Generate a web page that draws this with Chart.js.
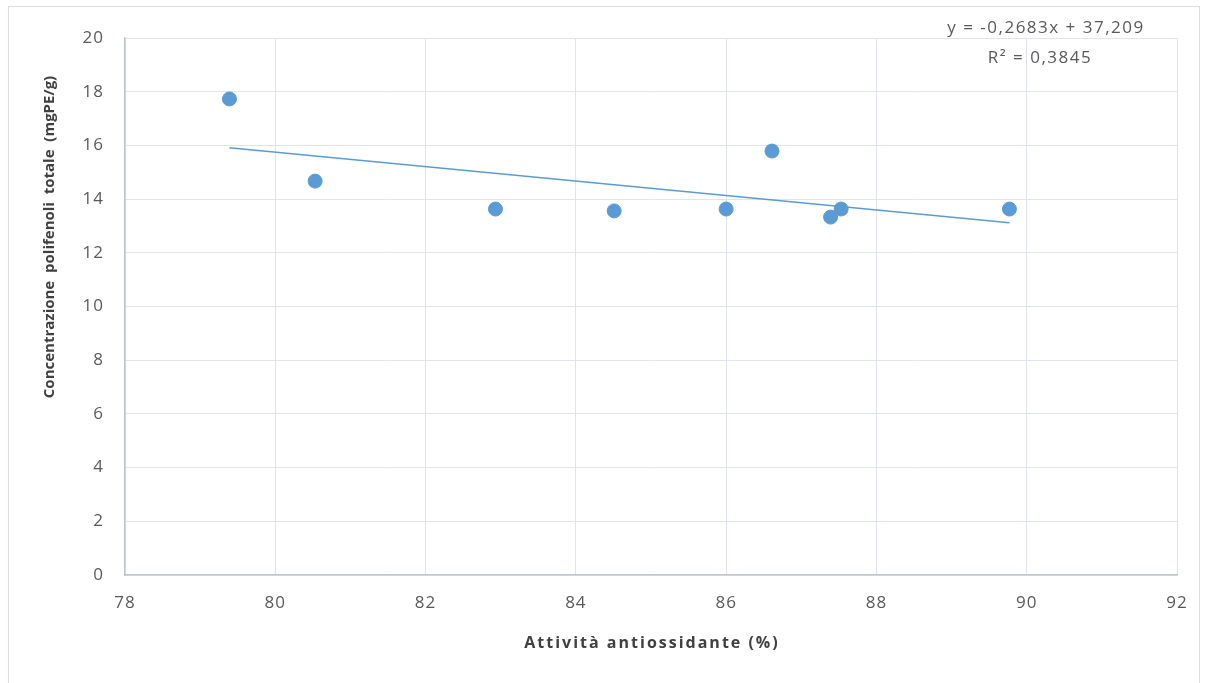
<!DOCTYPE html>
<html>
<head>
<meta charset="utf-8">
<script src="https://cdn.jsdelivr.net/npm/chart.js@4"></script>
<style>
  html, body { margin: 0; padding: 0; background: #fff; }
  #wrap { position: relative; width: 1207px; height: 683px; }
  #frame { position: absolute; left: 8px; top: 6px; width: 1192px; height: 700px; border: 1px solid #d9dde3; box-sizing: border-box; }
  canvas { position: absolute; left: 0; top: 0; }
</style>
</head>
<body>
<div id="wrap">
  <div id="frame"></div>
  <canvas id="scatterChart" width="1207" height="683"></canvas>
</div>
<script>
// Data
const attivita = [79.39, 80.53, 82.93, 84.51, 86.0, 86.61, 87.39, 87.53, 89.77];
const polifenoli = [17.73, 14.67, 13.63, 13.56, 13.63, 15.79, 13.33, 13.63, 13.63];
const xTicks = [78, 80, 82, 84, 86, 88, 90, 92];
const yTicks = [0, 2, 4, 6, 8, 10, 12, 14, 16, 18, 20];

// Linear trend line as printed on the chart
const slope = -0.2683;
const intercept = 37.209;
const eqLabel = 'y = -0,2683x + 37,209';
const r2Label = 'R² = 0,3845';
const xTitle = 'Attività antiossidante (%)';
const yTitle = 'Concentrazione  polifenoli  totale  (mgPE/g)';

const blue = '#5b9bd5';
const textColor = '#595959';
const titleColor = '#404040';
const fontFamily = "'Open Sans', 'Noto Sans', sans-serif";

const xMin = Math.min.apply(null, attivita);
const xMax = Math.max.apply(null, attivita);
const trendData = [
    { x: xMin, y: slope * xMin + intercept },
    { x: xMax, y: slope * xMax + intercept }
];

// Wider letter spacing, the original text looks stretched
const spacingPlugin = {
    id: 'spacing',
    beforeDraw: function(chart) {
        chart.ctx.letterSpacing = '1px';
    }
};

// Axis titles and equation text
const textPlugin = {
    id: 'extraText',
    afterDraw: function(chart) {
        const ctx = chart.ctx;
        ctx.save();
        ctx.letterSpacing = '1.5px';
        ctx.textAlign = 'center';
        ctx.textBaseline = 'middle';

        ctx.fillStyle = textColor;
        ctx.font = '17px ' + fontFamily;
        ctx.fillText(eqLabel, 1046, 28);
        ctx.fillText(r2Label, 1040, 58);

        ctx.fillStyle = titleColor;
        ctx.font = 'bold 16px ' + fontFamily;
        ctx.letterSpacing = '2px';
        ctx.fillText(xTitle, 652, 643);

        ctx.letterSpacing = '0px';
        ctx.font = 'bold 15px ' + fontFamily;
        ctx.translate(50, 237);
        ctx.rotate(-Math.PI / 2);
        ctx.fillText(yTitle, 0, 0);
        ctx.restore();
    }
};

const ctx = document.getElementById('scatterChart').getContext('2d');
new Chart(ctx, {
    type: 'scatter',
    data: {
        datasets: [
            {
                label: 'Polifenoli',
                data: attivita.map(function(v, i) { return { x: v, y: polifenoli[i] }; }),
                backgroundColor: blue,
                borderColor: blue,
                pointRadius: 7,
                pointHoverRadius: 7,
                order: 1
            },
            {
                label: 'Lineare',
                type: 'line',
                data: trendData,
                borderColor: blue,
                borderWidth: 1.5,
                pointRadius: 0,
                fill: false,
                order: 2
            }
        ]
    },
    options: {
        responsive: false,
        animation: false,
        layout: { padding: { top: 38, right: 30, left: 0, bottom: 0 } },
        plugins: {
            legend: { display: false },
            tooltip: { enabled: false }
        },
        scales: {
            x: {
                type: 'linear',
                min: 78,
                max: 92,
                afterBuildTicks: function(scale) {
                    scale.ticks = xTicks.map(function(v) { return { value: v }; });
                },
                afterFit: function(scale) { scale.height = 108; },
                grid: { color: '#e1e4ea', lineWidth: 1, drawTicks: false },
                border: { color: '#bfc4cc', width: 1.5 },
                ticks: {
                    color: textColor,
                    padding: 18,
                    font: { family: fontFamily, size: 17 }
                }
            },
            y: {
                type: 'linear',
                min: 0,
                max: 20,
                afterBuildTicks: function(scale) {
                    scale.ticks = yTicks.map(function(v) { return { value: v }; });
                },
                afterFit: function(scale) { scale.width = 125; },
                grid: { color: '#e1e4ea', lineWidth: 1, drawTicks: false },
                border: { color: '#bfc4cc', width: 1.5 },
                ticks: {
                    color: textColor,
                    padding: 21,
                    font: { family: fontFamily, size: 17 }
                }
            }
        }
    },
    plugins: [spacingPlugin, textPlugin]
});
</script>
</body>
</html>
